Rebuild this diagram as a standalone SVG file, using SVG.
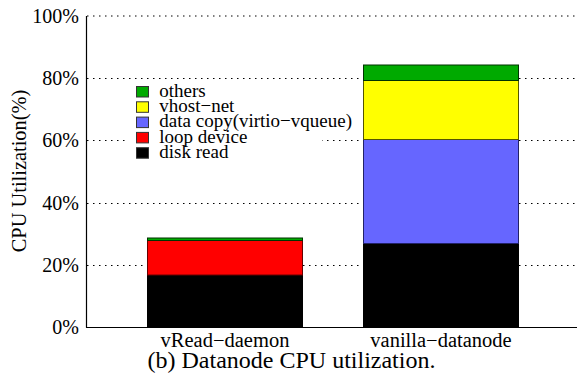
<svg xmlns="http://www.w3.org/2000/svg" width="577" height="379" viewBox="0 0 577 379" font-family="'Liberation Serif', 'Times New Roman', Times, 'DejaVu Serif', serif">
<style>
.tick{font-size:20px;text-anchor:end}
.grid{stroke:#000;stroke-width:1;stroke-dasharray:1.5 4.5;fill:none}
.leg{font-size:19px}
.xl{font-size:20.5px;text-anchor:middle}
.bar{stroke-width:1}
</style>
<rect width="577" height="379" fill="#fff"/>
<g id="grid">
<line class="grid" x1="87" y1="16" x2="577" y2="16"/>
<line class="grid" x1="87" y1="78.5" x2="577" y2="78.5"/>
<line class="grid" x1="87" y1="140.5" x2="577" y2="140.5"/>
<line class="grid" x1="87" y1="203.5" x2="577" y2="203.5"/>
<line class="grid" x1="87" y1="265.5" x2="577" y2="265.5"/>
</g>
<g id="ticks">
<text class="tick" x="79" y="22.5">100%</text>
<text class="tick" x="79" y="85">80%</text>
<text class="tick" x="79" y="147">60%</text>
<text class="tick" x="79" y="210">40%</text>
<text class="tick" x="79" y="272">20%</text>
<text class="tick" x="79" y="334">0%</text>
</g>
<text x="0" y="0" transform="translate(25.5,171) rotate(-90)" font-size="20.4" text-anchor="middle">CPU Utilization(%)</text>
<g id="bar-vread">
<rect class="bar" x="147.5" y="275" width="155" height="52" fill="#000" stroke="#000"/>
<rect class="bar" x="147.5" y="240.5" width="155" height="34.5" fill="#ff0000" stroke="#600"/>
<rect class="bar" x="147.5" y="238" width="155" height="2.5" fill="#00aa00" stroke="#030"/>
</g>
<g id="bar-vanilla">
<rect class="bar" x="363.5" y="243.5" width="155" height="83.5" fill="#000" stroke="#000"/>
<rect class="bar" x="363.5" y="139.5" width="155" height="104" fill="#6666ff" stroke="#222266"/>
<rect class="bar" x="363.5" y="80.5" width="155" height="59" fill="#ffff00" stroke="#555500"/>
<rect class="bar" x="363.5" y="65" width="155" height="15.5" fill="#00aa00" stroke="#003300"/>
</g>
<g id="axes" stroke="#000" stroke-width="1.2" fill="none">
<line x1="86.5" y1="16" x2="86.5" y2="327.5"/>
<line x1="86" y1="327.5" x2="577" y2="327.5"/>
</g>
<g id="legend">
<rect x="128" y="82" width="194" height="80" fill="#fff"/>
<rect x="136.5" y="86.5" width="12" height="10.5" fill="#00aa00" stroke="#333"/>
<text class="leg" x="159.3" y="96.7">others</text>
<rect x="136.5" y="101.8" width="12" height="10.5" fill="#ffff00" stroke="#333"/>
<text class="leg" x="159.3" y="112">vhost−net</text>
<rect x="136.5" y="117.1" width="12" height="10.5" fill="#6666ff" stroke="#333"/>
<text class="leg" x="159.3" y="127.3">data copy(virtio−vqueue)</text>
<rect x="136.5" y="132.4" width="12" height="10.5" fill="#ff0000" stroke="#333"/>
<text class="leg" x="159.3" y="142.6">loop device</text>
<rect x="136.5" y="147.7" width="12" height="10.5" fill="#000" stroke="#333"/>
<text class="leg" x="159.3" y="157.9">disk read</text>
</g>
<g id="xlabels">
<text class="xl" x="225" y="346.5">vRead−daemon</text>
<text class="xl" x="441" y="346.5">vanilla−datanode</text>
</g>
<text x="291.5" y="368" font-size="24" text-anchor="middle">(b) Datanode CPU utilization.</text>
</svg>
